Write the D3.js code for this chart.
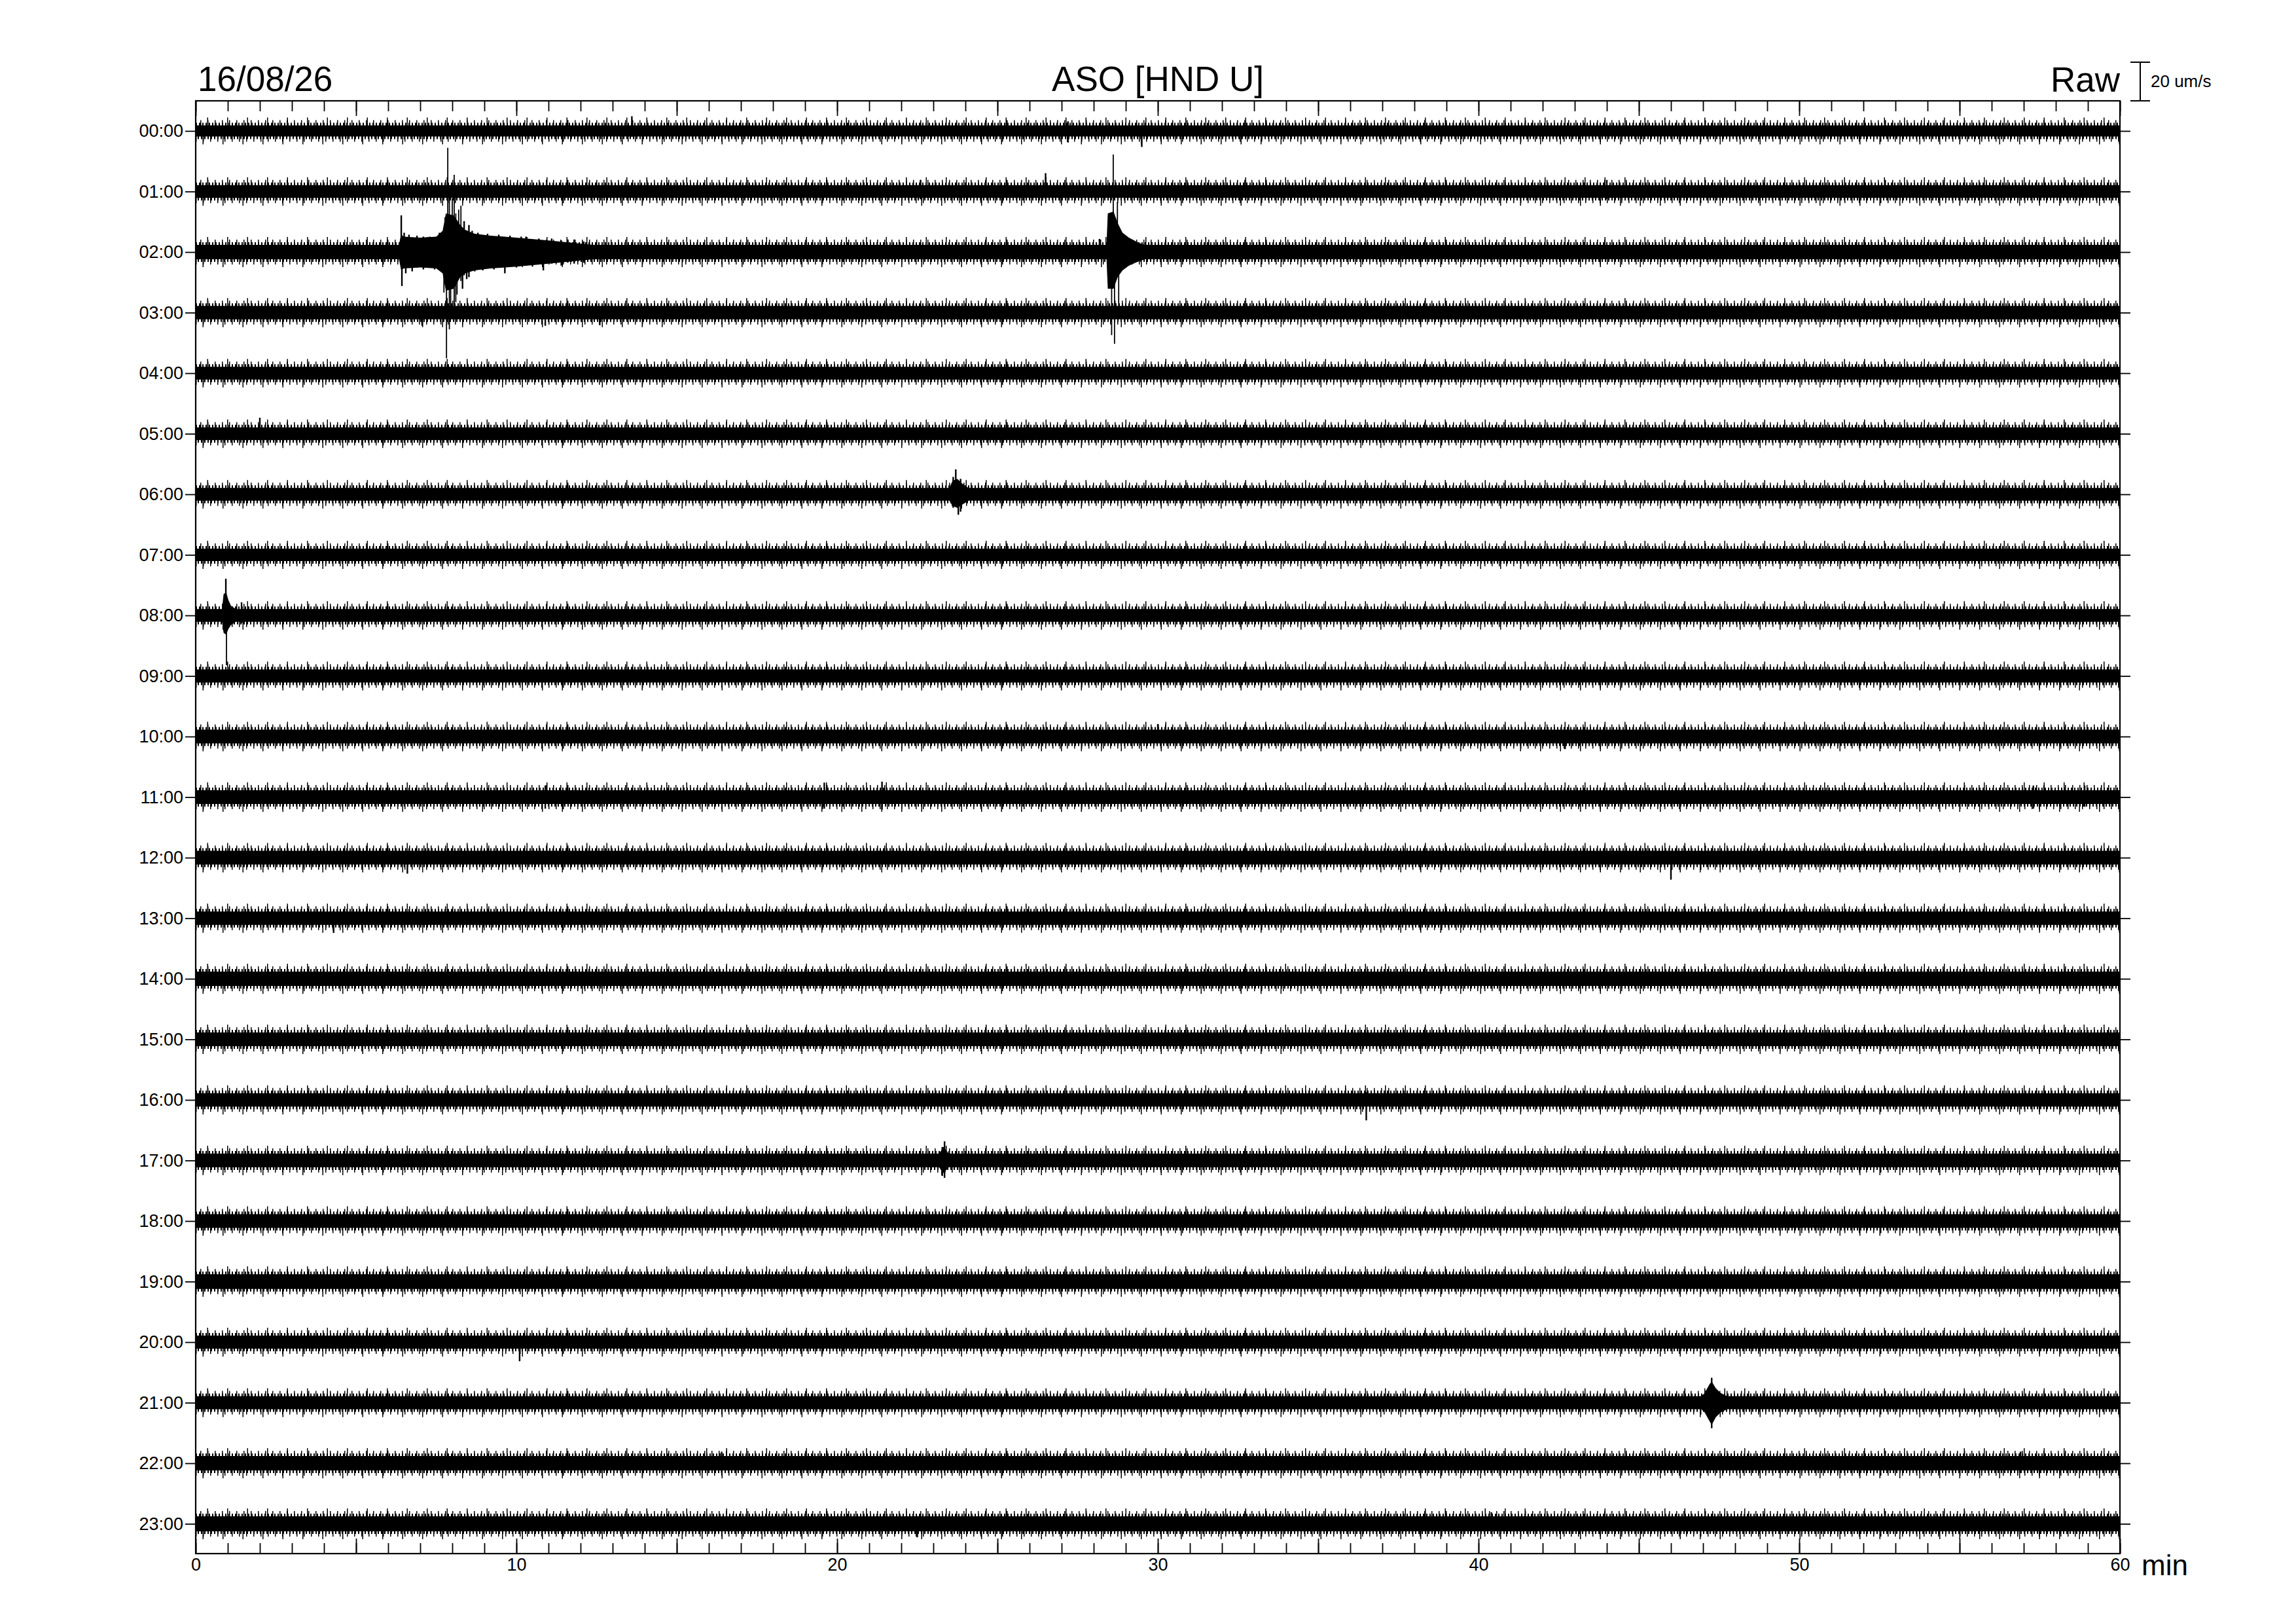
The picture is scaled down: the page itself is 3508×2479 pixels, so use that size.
<!DOCTYPE html>
<html>
<head>
<meta charset="utf-8">
<script src="https://cdn.jsdelivr.net/npm/d3@7"></script>
<style>
body{margin:0;background:#fff;}
text{font-family:"Liberation Sans",Arial,sans-serif;fill:#000;}
</style>
</head>
<body>
<svg id="heli"></svg>
<script>
// helicorder, one trace per hour, amplitude in um/s
var hours=["00:00","01:00","02:00","03:00","04:00","05:00","06:00","07:00","08:00","09:00","10:00","11:00",
           "12:00","13:00","14:00","15:00","16:00","17:00","18:00","19:00","20:00","21:00","22:00","23:00"];
var minuteLabels=[0,10,20,30,40,50,60];
// background noise half width per hour (um/s)
var noise=[2.9,3.3,3.7,3.5,3.3,3.3,3.3,3.2,3.3,3.4,3.6,3.6,3.6,3.5,3.7,3.6,3.5,3.6,3.6,3.8,3.4,3.4,3.7,3.9];
// event envelopes: [minute, up, down]
var env02a=[[6.34,3.7,3.7],[6.40,9,9],[6.5,8,8.5],[7.0,7.5,8],[7.5,8,8.5],[7.7,11,11],[7.8,20,20],[8.05,19,19],
            [8.25,14,13],[8.4,11.5,11],[8.7,9.5,9.5],[9.2,8.5,8.5],[10.0,7.5,7.5],[11.0,6,6],[12.4,3.7,3.7]];
var env02b=[[28.40,3.7,3.7],[28.44,20,19],[28.62,21,19],[28.75,15,13],[28.9,10,9.5],[29.1,7.5,7],[29.4,4.8,4.8],[29.6,3.7,3.7]];
var env06=[[23.5,3.3,3.3],[23.6,7,6],[23.75,8,7],[23.95,4.8,4.8],[24.1,3.3,3.3]];
var env08=[[0.82,3.3,3.3],[0.87,11,9],[0.95,12,10],[1.02,8,7],[1.1,5,5],[1.25,3.3,3.3]];
var env17=[[23.18,3.6,3.6],[23.32,7,6.5],[23.48,3.6,3.6]];
var env21=[[46.95,3.4,3.4],[47.05,5,5],[47.2,9.5,9.5],[47.27,11,11.5],[47.4,7.5,7.5],[47.55,5,5],[47.75,3.4,3.4]];
var envelopes=[{row:2,pts:env02a},{row:2,pts:env02b},{row:6,pts:env06},{row:8,pts:env08},{row:17,pts:env17},{row:21,pts:env21}];
// single swings: [hour, minute, up, down]
var spikes=[[2,6.41,19,2],[2,6.43,2,17.6],
  [2,6.5,10,8],[2,6.55,7,11],[2,6.65,9,8],[2,6.75,7,10],[2,6.9,8.5,8],[2,7.1,8,9],[2,7.3,8,7],[2,7.45,7,9],[2,7.6,10,9],
  [2,7.74,4,21],[2,7.78,18,10],[2,7.82,6,55],[2,7.86,54,6],[2,7.91,30,40],[2,7.95,12,30],[2,8.0,28,12],[2,8.06,40,28],
  [2,8.11,20,26],[2,8.15,16,22],[2,8.2,22,10],[2,8.27,24,15],[2,8.32,10,19],[2,8.37,16,12],[2,8.45,10,14],[2,8.52,14,13],
  [2,8.62,11,9],[2,8.7,8,10],[2,8.8,10,8],[2,8.95,8,9.5],[2,9.1,9.5,8],[2,9.3,7,9],[2,9.45,9,7],[2,9.64,6,11],
  [2,9.8,8.5,7],[2,10.0,7,8],[2,10.15,8,6],[2,10.3,8,7],[2,10.5,6.5,7.5],[2,10.7,7,6],[2,10.84,6,9.5],
  [2,11.1,7,6],[2,11.4,6,7],[2,11.6,6.5,5.5],[2,11.8,6.5,6],[2,12.1,5.5,5.5],
  [2,28.18,6.8,3],[2,28.56,3,43],[2,28.61,50.5,4],[2,28.65,3,47.5],[2,28.74,26,3],[2,28.78,3,28],
  [8,0.94,19,3],[8,0.96,3,25.8],[8,1.43,6.8,4],
  [6,23.62,9,7],[6,23.7,12.9,3],[6,23.78,3,10.6],[6,23.85,8,9],
  [17,23.28,7,8],[17,23.35,9.9,9],[21,47.27,12.9,13.2],
  [0,13.6,7.6,3],[0,27.2,5,6],[0,29.5,3,8.3],[1,22.6,6,4],[1,26.5,9.5,4],[1,44,6,4],
  [3,7.06,3,6.8],[3,10.9,3,6.8],[3,12.6,3,6.5],[5,2.0,8.3,3],[10,30,6.5,3],[10,42.7,3,6.5],
  [11,10.9,6,6],[11,19.6,7.5,6],[11,21.4,8,6.5],[11,57.3,6,6],[11,58.9,6,5],
  [12,6.6,3,8.3],[12,46.0,3,11.4],[13,4.3,4,7.6],[16,36.5,4,10.6],[20,10.1,3,9.9],
  [22,16.4,6,5],[22,56.9,6,5],[23,22.5,4,7],[23,40.4,6,4]];

var W=3508,H=2479;
var pLeft=299,pRight=3239,pTop=154,pBottom=2373;

var svg=d3.select("#heli").attr("width",W).attr("height",H);

var x=d3.scaleLinear().domain([0,60]).range([pLeft,pRight]);
var row=d3.scaleLinear().domain([0,23]).range([200,2327.5]);
var amp=d3.scaleLinear().domain([0,20]).range([0,59]);

svg.append("clipPath").attr("id","plot")
   .append("rect").attr("x",pLeft).attr("y",pTop).attr("width",pRight-pLeft).attr("height",pBottom-pTop);

var traces=svg.append("g").attr("clip-path","url(#plot)");

function rowPts(i){
  var n=noise[i];
  var pts=[[0,n,n]];
  envelopes.filter(function(e){return e.row==i;}).forEach(function(e){
    e.pts.forEach(function(p){pts.push(p);});
  });
  pts.push([60,n,n]);
  return pts.sort(function(a,b){return a[0]-b[0];});
}

hours.forEach(function(h,i){
  var pts=rowPts(i);
  var n=noise[i];
  var area=d3.area()
             .x(function(p){return x(p[0]);})
             .y0(function(p){return row(i)+amp(p[2]);})
             .y1(function(p){return row(i)-amp(p[1]);});
  var g=traces.append("g").classed("trace",true);
  g.append("path").datum(pts).attr("d",area).attr("fill","#000");
  // ragged edge of the noise band
  [[8,"2 3",0],[16,"1.5 9.5",4],[24,"1.5 29",13]].forEach(function(s){
    [-1,1].forEach(function(sgn,k){
      g.append("line")
       .attr("x1",x(0)).attr("x2",x(60))
       .attr("y1",row(i)+sgn*amp(n)).attr("y2",row(i)+sgn*amp(n))
       .attr("stroke","#000")
       .attr("stroke-width",s[0]).attr("stroke-dasharray",s[1])
       .attr("stroke-dashoffset",s[2]+k*7);
    });
  });
});

traces.selectAll("line.spike")
  .data(spikes)
  .enter().append("line")
  .classed("spike",true)
  .attr("x1",function(d){return x(d[1]);})
  .attr("x2",function(d){return x(d[1]);})
  .attr("y1",function(d){return row(d[0])-amp(d[2]);})
  .attr("y2",function(d){return row(d[0])+amp(d[3]);})
  .attr("stroke","#000")
  .attr("stroke-width",function(d){return (d[2]>20||d[3]>20)?1.8:2.4;});

// axes
function clean(g,size){
  g.select(".domain").remove();
  g.selectAll("line").attr("stroke-width",1.8);
  g.selectAll("text").attr("font-family","Liberation Sans, Arial, sans-serif").attr("font-size",size);
}
svg.append("g").attr("transform","translate(0,"+pTop+")")
   .call(d3.axisTop(x).tickValues(d3.range(0,61)).tickSize(-16).tickFormat(""))
   .call(clean,0);
svg.append("g").attr("transform","translate(0,"+pTop+")")
   .call(d3.axisTop(x).tickValues(d3.range(0,61,5)).tickSize(-23).tickFormat(""))
   .call(clean,0);
svg.append("g").attr("transform","translate(0,"+pBottom+")")
   .call(d3.axisBottom(x).tickValues(d3.range(0,61)).tickSize(-16).tickFormat(""))
   .call(clean,0);
svg.append("g").attr("transform","translate(0,"+pBottom+")")
   .call(d3.axisBottom(x).tickValues(d3.range(0,61,5)).tickSize(-23).tickFormat(""))
   .call(clean,0);
svg.append("g").attr("transform","translate(0,"+pBottom+")")
   .call(d3.axisBottom(x).tickValues(minuteLabels).tickSize(0).tickPadding(7))
   .call(clean,27);
svg.append("g").attr("transform","translate("+pLeft+",0)")
   .call(d3.axisLeft(row).tickValues(d3.range(24)).tickFormat(function(i){return hours[i];}).tickSize(16).tickPadding(3))
   .call(clean,27);
svg.append("g").attr("transform","translate("+pRight+",0)")
   .call(d3.axisRight(row).tickValues(d3.range(24)).tickFormat("").tickSize(16))
   .call(clean,0);

svg.append("rect").attr("x",pLeft).attr("y",pTop).attr("width",pRight-pLeft).attr("height",pBottom-pTop)
   .attr("fill","none").attr("stroke","#000").attr("stroke-width",2.2);

// titles
svg.append("text").attr("x",pLeft+3).attr("y",139).attr("font-size",53).text("16/08/26");
svg.append("text").attr("x",(pLeft+pRight)/2).attr("y",139).attr("font-size",53).attr("text-anchor","middle").text("ASO [HND U]");
svg.append("text").attr("x",pRight).attr("y",140).attr("font-size",53).attr("text-anchor","end").text("Raw");
svg.append("text").attr("x",3272).attr("y",2406).attr("font-size",44).text("min");

// scale bar 20 um/s
var sb=svg.append("g").attr("stroke","#000").attr("stroke-width",2);
sb.append("line").attr("x1",3270).attr("x2",3270).attr("y1",pTop).attr("y2",pTop-amp(20));
sb.append("line").attr("x1",3255).attr("x2",3285).attr("y1",pTop).attr("y2",pTop);
sb.append("line").attr("x1",3255).attr("x2",3285).attr("y1",pTop-amp(20)).attr("y2",pTop-amp(20));
svg.append("text").attr("x",3286).attr("y",133).attr("font-size",26).text("20 um/s");
</script>
</body>
</html>
